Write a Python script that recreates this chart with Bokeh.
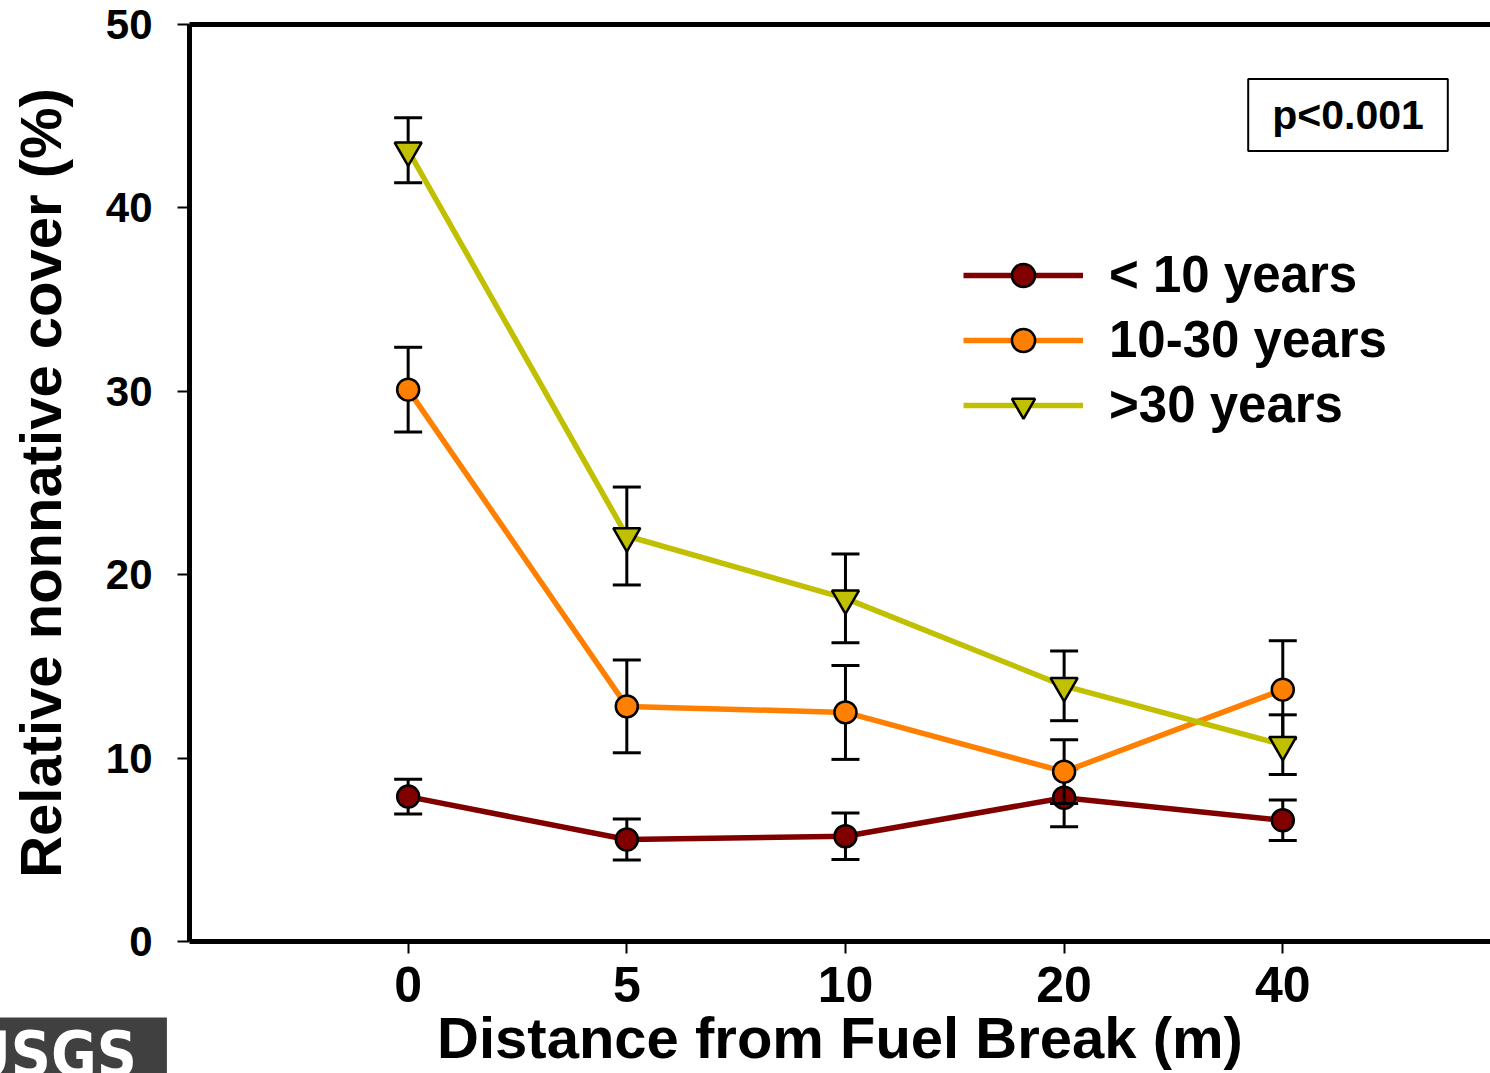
from bokeh.plotting import figure
from bokeh.models import Range1d, FixedTicker, LinearAxis, Legend, LegendItem, Label, Title
from bokeh.embed import file_html
from bokeh.resources import INLINE

# Distance classes (m) and relative nonnative cover (%) by fuel-break age
distances = ["0", "5", "10", "20", "40"]

under10_mean = [7.9, 5.56, 5.74, 7.84, 6.61]
under10_se = [0.95, 1.12, 1.27, 1.58, 1.10]

mid_mean = [30.09, 12.82, 12.49, 9.26, 13.73]
mid_se = [2.31, 2.53, 2.56, 1.74, 2.67]

over30_mean = [43.14, 22.11, 18.71, 13.94, 10.73]
over30_se = [1.77, 2.67, 2.42, 1.90, 1.63]

series_labels = ["< 10 years", "10-30 years", ">30 years"]
series_colors = ["#800000", "#FF8000", "#C0C000"]

FONT = "Liberation Sans"

x_pos = list(range(1, len(distances) + 1))

p = figure(
    width=1490, height=1073,
    output_backend="svg", toolbar_location=None,
    x_range=Range1d(0, 5.95), y_range=Range1d(0, 50),
    min_border_left=189, min_border_right=0,
    min_border_top=24, min_border_bottom=131,
)
p.grid.visible = False
p.outline_line_color = None
p.background_fill_color = "white"
p.border_fill_color = "white"

# bottom axis
xa = p.xaxis[0]
xa.ticker = FixedTicker(ticks=x_pos)
xa.major_label_overrides = {i: d for i, d in zip(x_pos, distances)}
xa.axis_line_width = 5
xa.major_tick_in = 0
xa.major_tick_out = 12
xa.major_tick_line_width = 2
xa.minor_tick_line_color = None
xa.major_label_text_font = FONT
xa.major_label_text_font_style = "bold"
xa.major_label_text_font_size = "50px"
xa.major_label_text_color = "black"
xa.major_label_standoff = 13
xa.axis_label = "Distance from Fuel Break (m)"
xa.axis_label_text_font = FONT
xa.axis_label_text_font_style = "bold"
xa.axis_label_text_font_size = "58px"
xa.axis_label_text_color = "black"
xa.axis_label_standoff = 0

# left axis
ya = p.yaxis[0]
ya.ticker = FixedTicker(ticks=[0, 10, 20, 30, 40, 50])
ya.axis_line_width = 5
ya.major_tick_in = 0
ya.major_tick_out = 12
ya.major_tick_line_width = 2
ya.minor_tick_line_color = None
ya.major_label_text_font = FONT
ya.major_label_text_font_style = "bold"
ya.major_label_text_font_size = "42px"
ya.major_label_text_color = "black"
ya.major_label_standoff = 25
ya.axis_label = "Relative nonnative cover (%)"
ya.axis_label_text_font = FONT
ya.axis_label_text_font_style = "bold"
ya.axis_label_text_font_size = "58px"
ya.axis_label_text_color = "black"
ya.axis_label_standoff = 30

# top border line
top = LinearAxis(ticker=FixedTicker(ticks=[]), axis_line_width=5,
                 major_tick_line_color=None, minor_tick_line_color=None,
                 major_label_text_font_size="0px")
p.add_layout(top, "above")

# series: error bars, connecting line, markers
all_means = [under10_mean, mid_mean, over30_mean]
all_se = [under10_se, mid_se, over30_se]
markers = ["circle", "circle", "inverted_triangle"]
marker_sizes = [22, 22, 27]

items = []
for label, color, mean, se, mk, ms in zip(series_labels, series_colors, all_means, all_se, markers, marker_sizes):
    lo = [m - s for m, s in zip(mean, se)]
    hi = [m + s for m, s in zip(mean, se)]
    p.segment(x0=x_pos, y0=lo, x1=x_pos, y1=hi, line_color="black", line_width=3)
    p.scatter(x_pos, lo, marker="dash", size=28, line_color="black", line_width=3)
    p.scatter(x_pos, hi, marker="dash", size=28, line_color="black", line_width=3)
    ln = p.line(x_pos, mean, line_color=color, line_width=5.5)
    sc = p.scatter(x_pos, mean, marker=mk, size=ms, fill_color=color,
                   line_color="black", line_width=2.5)
    items.append(LegendItem(label=label, renderers=[ln, sc]))

legend = Legend(
    items=items, location=(774, 507),
    glyph_width=120, glyph_height=58, spacing=6,
    padding=0, margin=0, label_standoff=26,
    label_text_font=FONT, label_text_font_style="bold",
    label_text_font_size="51px", label_text_color="black",
    border_line_color=None, background_fill_alpha=0,
)
p.add_layout(legend)

# significance box (padding given as left, right, top, bottom)
p.add_layout(Label(
    x=1158.5, y=826.5, x_units="screen", y_units="screen",
    text="p<0.001", text_align="center", text_baseline="middle",
    text_font=FONT, text_font_style="bold", text_font_size="41px",
    text_color="black", border_line_color="black", border_line_width=2,
    background_fill_color="white", padding=(24, 24, 13, 13),
))

# agency logo in the lower-left corner; the negative standoff keeps it
# from taking extra room below the axis
logo = Title(
    text="USGS", align="left", vertical_align="top",
    offset=-264, standoff=-110,
    text_font="DejaVu Sans Condensed", text_font_style="bold",
    text_font_size="62px", text_color="white",
    background_fill_color="#404040", padding=(40, 30, 0, 36),
)
p.add_layout(logo, "below")

open("out.html", "w").write(file_html(p, INLINE))
